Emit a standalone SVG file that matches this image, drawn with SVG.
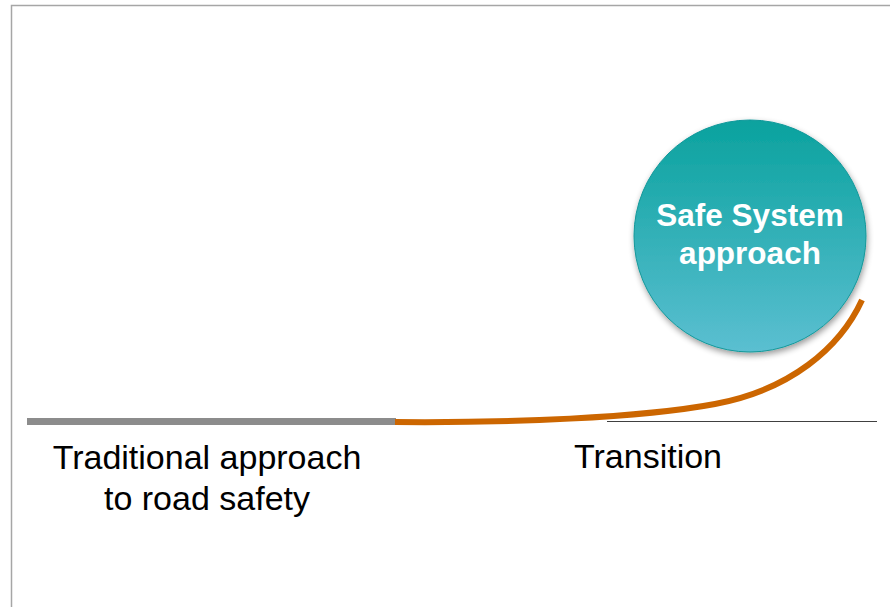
<svg xmlns="http://www.w3.org/2000/svg" width="890" height="607" viewBox="0 0 890 607">
<style>
.lbl{font-family:"Liberation Sans",Arial,sans-serif;font-size:34px;fill:#000;text-anchor:middle}
.in{font-family:"Liberation Sans",Arial,sans-serif;font-size:31.5px;font-weight:bold;fill:#fff;text-anchor:middle}
</style>
<defs>
<linearGradient id="g" x1="0" y1="0" x2="0" y2="1">
<stop offset="0" stop-color="#0aa29e"/>
<stop offset="1" stop-color="#5bbfd1"/>
</linearGradient>
<filter id="sh" x="-20%" y="-20%" width="140%" height="140%">
<feGaussianBlur in="SourceAlpha" stdDeviation="3"/>
<feOffset dx="1" dy="3"/>
<feComponentTransfer><feFuncA type="linear" slope="0.4"/></feComponentTransfer>
<feMerge><feMergeNode/><feMergeNode in="SourceGraphic"/></feMerge>
</filter>
</defs>
<rect x="0" y="0" width="890" height="607" fill="#fff"/>
<path d="M11.5,607 V5.5 H890" fill="none" stroke="#a6a6a6" stroke-width="1.5"/>
<g id="connectors">
<line x1="607" y1="421.5" x2="877" y2="421.5" stroke="#404040" stroke-width="1.2"/>
<line x1="27" y1="421.5" x2="396" y2="421.5" stroke="#8c8c8c" stroke-width="7"/>
</g>
<g id="safe-system">
<circle cx="750" cy="236" r="116" fill="url(#g)" stroke="#12989a" stroke-width="1" filter="url(#sh)"/>
<text class="in" x="750" y="226">Safe System</text>
<text class="in" x="750" y="264">approach</text>
</g>
<g id="transition-curve">
<path d="M395,422 C510,423 640,418 715,404 C790,390 840,348 862,300" fill="none" stroke="#cc6600" stroke-width="6"/>
</g>
<g id="traditional">
<text class="lbl" x="207" y="469">Traditional approach</text>
<text class="lbl" x="207" y="510">to road safety</text>
</g>
<g id="transition">
<text class="lbl" x="648" y="468">Transition</text>
</g>
</svg>
